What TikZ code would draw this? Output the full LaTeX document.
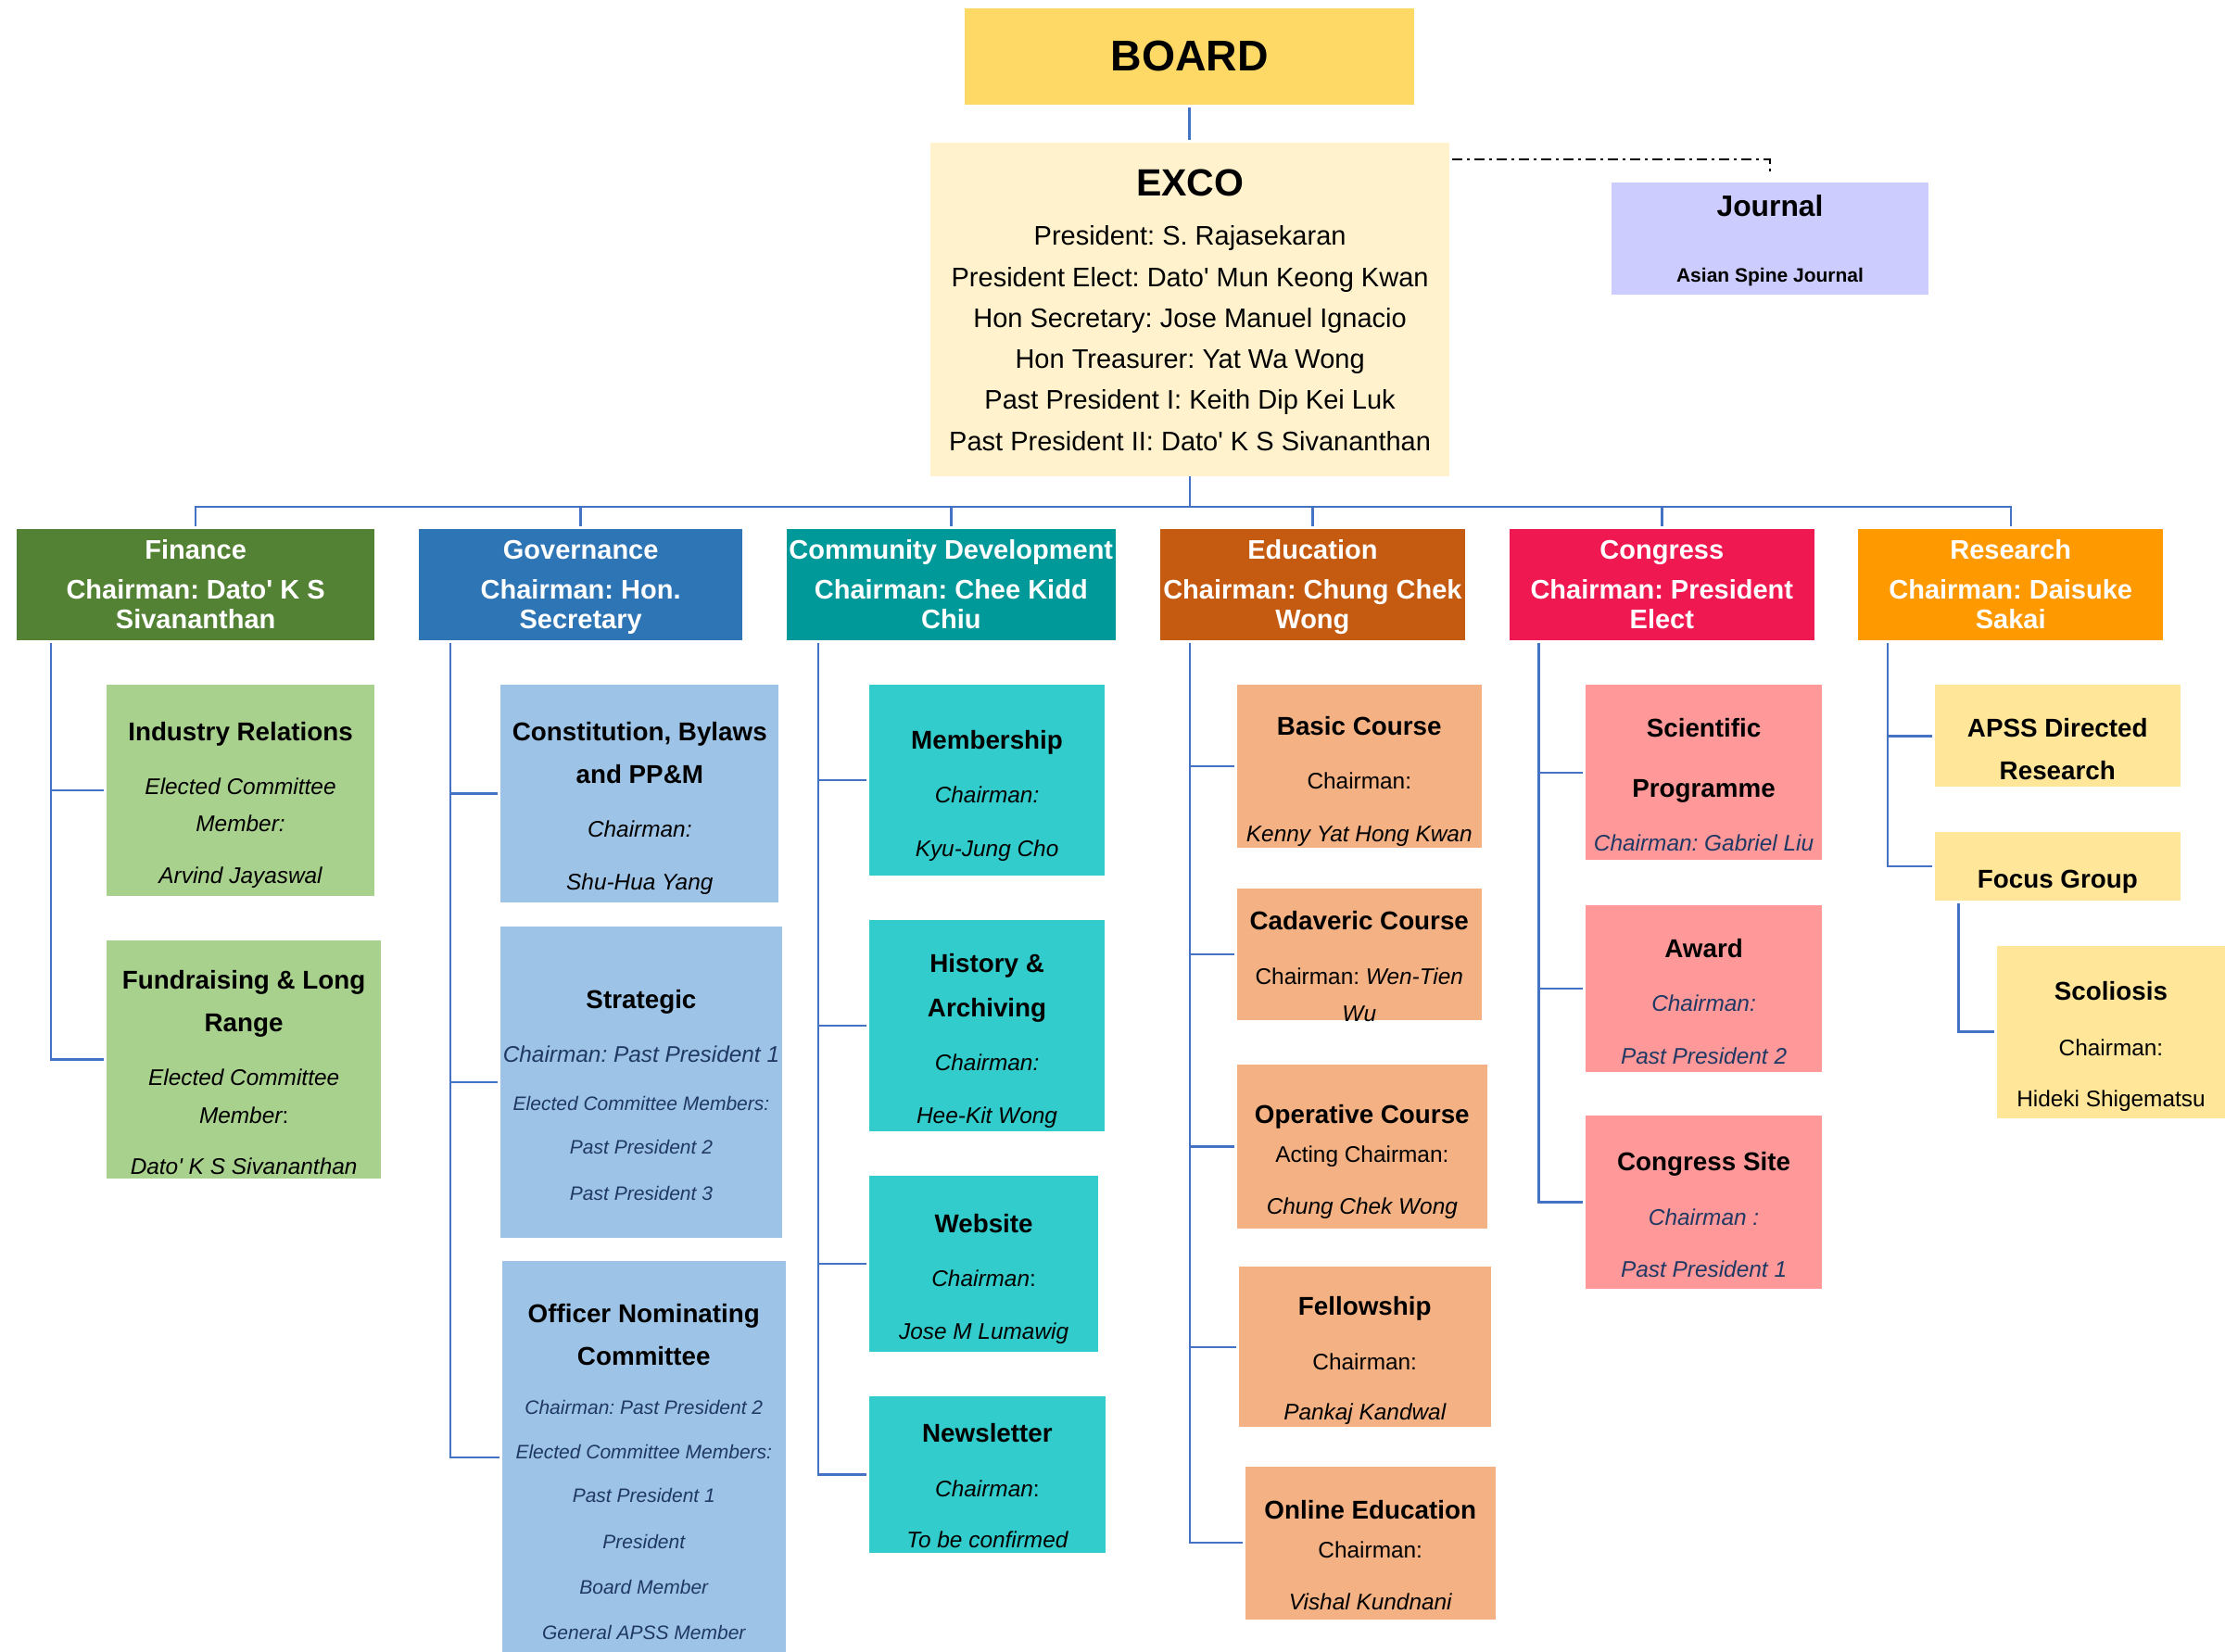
\documentclass[tikz,border=0pt]{standalone}
\usepackage{fontspec}
\setmainfont{Liberation Sans}
\usetikzlibrary{calc}
\frenchspacing
\definecolor{boardY}{HTML}{FFD966}
\definecolor{excoY}{HTML}{FFF2CC}
\definecolor{journalP}{HTML}{CCCCFF}
\definecolor{finD}{HTML}{548235}
\definecolor{finL}{HTML}{A9D18E}
\definecolor{govD}{HTML}{2E75B6}
\definecolor{govL}{HTML}{9DC3E6}
\definecolor{comD}{HTML}{009999}
\definecolor{comL}{HTML}{33CCCC}
\definecolor{eduD}{HTML}{C55A11}
\definecolor{eduL}{HTML}{F4B183}
\definecolor{conD}{RGB}{240,24,80}
\definecolor{conL}{HTML}{FF9999}
\definecolor{resD}{HTML}{FF9900}
\definecolor{resL}{HTML}{FFE699}
\definecolor{navy}{HTML}{1F3864}
\definecolor{connblue}{HTML}{4472C4}
\newdimen\U \U=0.7656pt
\newcommand\ft[1]{\fontsize{#1}{0}\selectfont}
\newcommand\lne[1]{\makebox[0pt]{#1}}
\newcommand\tB[1]{\lne{\ft{13.9}\bfseries #1}}
\newcommand\tI[1]{\lne{\ft{12.2}\itshape #1}}
\newcommand\tR[1]{\lne{\ft{12.2}#1}}
\newcommand\tN[1]{\lne{\ft{12.2}\itshape\color{navy}#1}}
\newcommand\tS[1]{\lne{\ft{10.5}\itshape\color{navy}#1}}
\newcommand\tE[1]{\lne{\ft{14.5}#1}}
\newcommand\hd[3]{\rule{0pt}{21.3\U}\lne{\ft{14.5}\bfseries #1}\\[28.3\U]\lne{\ft{14.5}\bfseries #2}\\[20.5\U]\lne{\ft{14.5}\bfseries #3}}
\newcommand\dq{\textquotesingle}
\tikzset{
  boxbase/.style={draw=none, inner sep=0pt, outer sep=0pt, anchor=north west},
  hdr/.style={text=white},
  conn/.style={draw=connblue, line width=1.2pt},
  child/.style={conn, shorten >=1.5pt},
  dashdotline/.style={draw=black, line width=1pt, dash pattern=on 5.5pt off 2.5pt on 1.5pt off 2.5pt},
}
\newcommand\bx[7]{%
  \pgfmathsetlengthmacro\bxw{(#4-#2)*\U}%
  \pgfmathsetlengthmacro\bxh{(#5-#3)*\U}%
  \node[boxbase,#6,minimum width=\bxw,minimum height=\bxh] (#1) at (#2,#3)
  {\parbox[t][\bxh][t]{\bxw}{\centering\frenchspacing\baselineskip=0pt\lineskip=0pt\lineskiplimit=-1000pt\relax #7}};%
}
\begin{document}
\begin{tikzpicture}[x=0.7656pt,y=-0.7656pt]
\useasboundingbox (0,0) rectangle (1568,1164);
% top
\bx{board}{680}{5.9}{996.6}{74}{fill=boardY}{\rule{0pt}{44.1\U}\lne{\ft{23.2}\bfseries BOARD}}
\bx{exco}{655.7}{100.6}{1021.5}{335.7}{fill=excoY}{\rule{0pt}{37.6\U}\lne{\ft{20.5}\bfseries EXCO}\\[34.8\U]\tE{President: S. Rajasekaran}\\[28.9\U]\tE{President Elect: Dato\dq{} Mun Keong Kwan}\\[28.7\U]\tE{Hon Secretary: Jose Manuel Ignacio}\\[28.9\U]\tE{Hon Treasurer: Yat Wa Wong}\\[28.9\U]\tE{Past President I: Keith Dip Kei Luk}\\[29\U]\tE{Past President II: Dato\dq{} K S Sivananthan}}
\bx{journal}{1135.7}{128.6}{1359}{207.9}{fill=journalP}{\rule{0pt}{23.8\U}\lne{\ft{15.9}\bfseries Journal}\\[46.6\U]\lne{\ft{10.5}\bfseries Asian Spine Journal}}
% headers
\bx{fin}{11.8}{372.9}{264}{451.2}{fill=finD,hdr}{\hd{Finance}{Chairman: Dato\dq{} K S}{Sivananthan}}
\bx{gov}{295.5}{372.9}{523}{451.2}{fill=govD,hdr}{\hd{Governance}{Chairman: Hon.}{Secretary}}
\bx{com}{554.5}{372.9}{786}{451.2}{fill=comD,hdr}{\hd{Community Development}{Chairman: Chee Kidd}{Chiu}}
\bx{edu}{817.5}{372.9}{1032.5}{451.2}{fill=eduD,hdr}{\hd{Education}{Chairman: Chung Chek}{Wong}}
\bx{con}{1063.8}{372.9}{1278.5}{451.2}{fill=conD,hdr}{\hd{Congress}{Chairman: President}{Elect}}
\bx{res}{1309.6}{372.9}{1524.3}{451.2}{fill=resD,hdr}{\hd{Research}{Chairman: Daisuke}{Sakai}}
% finance
\bx{indrel}{75}{482.7}{264}{631.5}{fill=finL}{\rule{0pt}{39.1\U}\tB{Industry Relations}\\[38.5\U]\tI{Elected Committee}\\[25.5\U]\tI{Member:}\\[37.2\U]\tI{Arvind Jayaswal}}
\bx{fundr}{75}{662.9}{268.7}{830.7}{fill=finL}{\rule{0pt}{34.1\U}\tB{Fundraising \& Long}\\[30\U]\tB{Range}\\[38\U]\tI{Elected Committee}\\[27\U]\lne{\ft{12.2}\itshape Member\upshape:}\\[35.7\U]\tI{Dato\dq{} K S Sivananthan}}
% governance
\bx{const}{352.8}{482.7}{548.8}{636}{fill=govL}{\rule{0pt}{39.1\U}\tB{Constitution, Bylaws}\\[30.2\U]\tB{and PP\&M}\\[38\U]\tI{Chairman:}\\[37\U]\tI{Shu-Hua Yang}}
\bx{strat}{352.8}{652.8}{551}{872.6}{fill=govL}{\rule{0pt}{58.2\U}\tB{Strategic}\\[38\U]\tN{Chairman: Past President 1}\\[33.4\U]\tS{Elected Committee Members:}\\[31.3\U]\tS{Past President 2}\\[32.3\U]\tS{Past President 3}}
\bx{offnom}{354}{888.8}{553.5}{1166}{fill=govL}{\rule{0pt}{43.2\U}\tB{Officer Nominating}\\[30\U]\tB{Committee}\\[34.6\U]\tS{Chairman: Past President 2}\\[31.7\U]\tS{Elected Committee Members:}\\[30.7\U]\tS{Past President 1}\\[32.6\U]\tS{President}\\[32\U]\tS{Board Member}\\[32.1\U]\tS{General APSS Member}}
% community development
\bx{member}{612.6}{482.6}{778.5}{617}{fill=comL}{\rule{0pt}{45.7\U}\tB{Membership}\\[37.7\U]\tI{Chairman:}\\[37.5\U]\tI{Kyu-Jung Cho}}
\bx{history}{612.6}{648.4}{778.5}{797.4}{fill=comL}{\rule{0pt}{37.3\U}\tB{History \&}\\[31\U]\tB{Archiving}\\[37.6\U]\tI{Chairman:}\\[37.5\U]\tI{Hee-Kit Wong}}
\bx{website}{612.6}{829}{774}{952.8}{fill=comL}{\rule{0pt}{39.8\U}\tB{Website}\\[37.9\U]\lne{\ft{12.2}\itshape Chairman\upshape:}\\[37\U]\tI{Jose M Lumawig}}
\bx{newsl}{612.6}{984}{779}{1094.5}{fill=comL}{\rule{0pt}{32.8\U}\tB{Newsletter}\\[38.2\U]\lne{\ft{12.2}\itshape Chairman\upshape:}\\[36\U]\tI{To be confirmed}}
% education
\bx{basic}{871.8}{482.6}{1044}{597.6}{fill=eduL}{\rule{0pt}{35.9\U}\tB{Basic Course}\\[37.8\U]\tR{Chairman:}\\[37.3\U]\tI{Kenny Yat Hong Kwan}}
\bx{cadav}{871.8}{626.3}{1044}{718.8}{fill=eduL}{\rule{0pt}{29.1\U}\tB{Cadaveric Course}\\[38.5\U]\lne{\ft{12.2}Chairman: \itshape Wen-Tien}\\[26.3\U]\tI{Wu}}
\bx{operat}{871.8}{750.4}{1048}{866}{fill=eduL}{\rule{0pt}{41.6\U}\tB{Operative Course}\\[27\U]\tR{Acting Chairman:}\\[37\U]\tI{Chung Chek Wong}}
\bx{fellow}{873}{893}{1050.6}{1006}{fill=eduL}{\rule{0pt}{34\U}\tB{Fellowship}\\[38.8\U]\tR{Chairman:}\\[35.2\U]\tI{Pankaj Kandwal}}
\bx{online}{877.4}{1033.5}{1054}{1141.5}{fill=eduL}{\rule{0pt}{37.5\U}\tB{Online Education}\\[27\U]\tR{Chairman:}\\[36.4\U]\tI{Vishal Kundnani}}
% congress
\bx{sci}{1117.6}{482.8}{1283.8}{606.2}{fill=conL}{\rule{0pt}{36.4\U}\tB{Scientific}\\[42.8\U]\tB{Programme}\\[37.7\U]\tN{Chairman: Gabriel Liu}}
\bx{award}{1117.6}{638}{1283.8}{755.4}{fill=conL}{\rule{0pt}{36.7\U}\tB{Award}\\[38.2\U]\tN{Chairman:}\\[36.9\U]\tN{Past President 2}}
\bx{site}{1117.6}{786.5}{1283.8}{908.4}{fill=conL}{\rule{0pt}{38.5\U}\tB{Congress Site}\\[38.8\U]\tN{Chairman :}\\[36.2\U]\tN{Past President 1}}
% research
\bx{apss}{1363.6}{482.8}{1536.4}{554.7}{fill=resL}{\rule{0pt}{36.4\U}\tB{APSS Directed}\\[30.4\U]\tB{Research}}
\bx{focus}{1363.6}{586.2}{1536.4}{635}{fill=resL}{\rule{0pt}{39.5\U}\tB{Focus Group}}
\bx{scol}{1407.3}{666.5}{1568}{788}{fill=resL}{\rule{0pt}{38.4\U}\tB{Scoliosis}\\[39.1\U]\tR{Chairman:}\\[36.4\U]\tR{Hideki Shigematsu}}
% connectors top
\draw[conn, shorten <=1.5pt, shorten >=1.5pt] (board.south) -- (board.south |- exco.north);
\draw[dashdotline] ($(exco.north east)+(2,11.9)$) -| ($(journal.north)+(0,-6.3)$);
\coordinate (bus) at ($(exco.south)+(0,21.6)$);
\draw[conn] (exco.south) -- (bus);
\foreach \h in {fin,gov,com,edu,con,res}{
  \draw[conn, shorten >=1.5pt] (bus) -| (\h.north);
}
% connectors to children
\foreach \c in {indrel,fundr}{\draw[child] ($(fin.south west)+(24,2)$) |- (\c.west);}
\foreach \c in {const,strat,offnom}{\draw[child] ($(gov.south west)+(22,2)$) |- (\c.west);}
\foreach \c in {member,history,website,newsl}{\draw[child] ($(com.south west)+(22.2,2)$) |- (\c.west);}
\foreach \c in {basic,cadav,operat,fellow,online}{\draw[child] ($(edu.south west)+(21,2)$) |- (\c.west);}
\foreach \c in {sci,award,site}{\draw[child] ($(con.south west)+(20.5,2)$) |- (\c.west);}
\foreach \c in {apss,focus}{\draw[child] ($(res.south west)+(20.6,2)$) |- (\c.west);}
\draw[child] ($(focus.south west)+(16.6,2)$) |- (scol.west);
\end{tikzpicture}
\end{document}
